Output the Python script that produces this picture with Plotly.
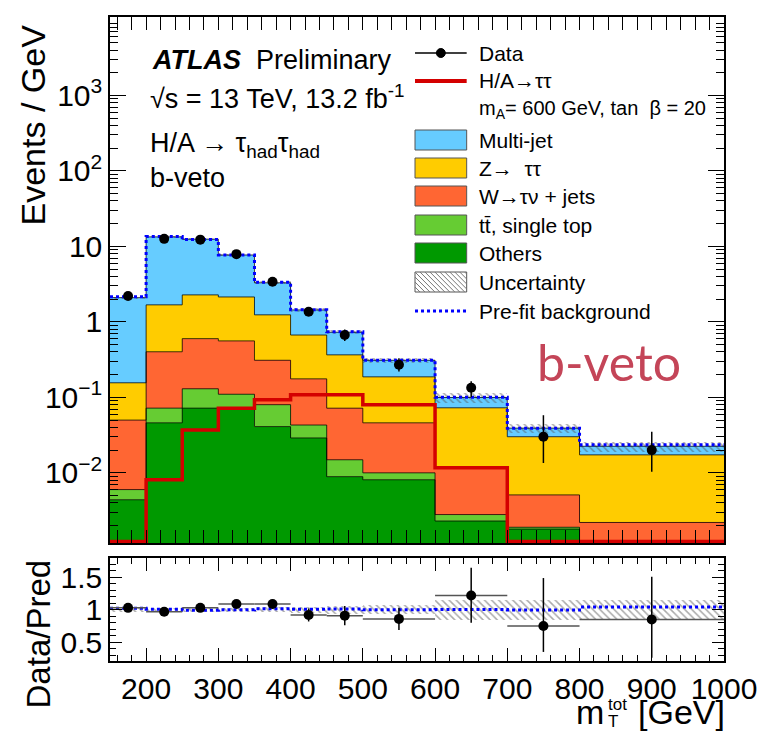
import numpy as np
import plotly.graph_objects as go

# ---------------- data (events / GeV) ----------------
edges = [150, 200, 250, 300, 350, 400, 450, 500, 600, 700, 800, 1000]
others = [0.0044, 0.046, 0.072, 0.070, 0.041, 0.029, 0.0089, 0.0081, 0.0023, 0.0018, 0.0008]
ttbar = [0.0016, 0.026, 0.058, 0.040, 0.039, 0.014, 0.0060, 0.0019, 0.0005, 0.0001, 0.0001]
wjets = [0.044, 0.33, 0.47, 0.45, 0.23, 0.133, 0.057, 0.036, 0.0089, 0.0032, 0.0013]
ztautau = [0.106, 1.28, 1.68, 1.58, 0.93, 0.494, 0.294, 0.141, 0.061, 0.025, 0.0151]
multijet = [1.94, 11.7, 10.2, 5.56, 2.06, 0.77, 0.364, 0.123, 0.027, 0.009, 0.0052]
prefit = [2.15, 13.5, 12.4, 7.7, 3.35, 1.45, 0.74, 0.31, 0.10, 0.039, 0.0235]
signal = [0.0, 0.0081, 0.037, 0.072, 0.093, 0.108, 0.108, 0.080, 0.0117, 0.0, 0.0]
data = [2.2, 12.6, 12.3, 7.9, 3.4, 1.36, 0.67, 0.27, 0.134, 0.030, 0.020]
data_err_up = [0.2, 0.5, 0.5, 0.4, 0.26, 0.17, 0.12, 0.06, 0.03, 0.028, 0.015]
data_err_dn = [0.2, 0.5, 0.5, 0.4, 0.26, 0.16, 0.11, 0.05, 0.033, 0.0165, 0.0097]
rel_unc = [0.03, 0.03, 0.03, 0.03, 0.04, 0.05, 0.06, 0.07, 0.15, 0.15, 0.15]
ratio = [1.03, 0.97, 1.03, 1.09, 1.09, 0.92, 0.91, 0.86, 1.22, 0.75, 0.85]
ratio_err_up = [0.05, 0.04, 0.04, 0.05, 0.07, 0.10, 0.15, 0.17, 0.43, 0.74, 0.66]
ratio_err_dn = [0.05, 0.04, 0.04, 0.05, 0.07, 0.10, 0.15, 0.17, 0.42, 0.40, 0.59]

yticks_main = [1e-2, 1e-1, 1, 10, 1e2, 1e3]
yticks_main_text = ["10<sup>\u22122</sup>", "10<sup>\u22121</sup>", "1", "10",
                    "10<sup>2</sup>", "10<sup>3</sup>"]
yticks_ratio = [0.5, 1, 1.5]
yticks_ratio_text = ["0.5", "1", "1.5"]

# ---------------- derived ----------------
e = np.array(edges, dtype=float)
centers = (e[:-1] + e[1:]) / 2
widths = np.diff(e)
comps = [("Others", others, "#009900"),
         ("ttbar", ttbar, "#66cc33"),
         ("W", wjets, "#ff6633"),
         ("Z", ztautau, "#ffcc00"),
         ("Multi-jet", multijet, "#66ccff")]
cum = np.cumsum(np.array([c[1] for c in comps]), axis=0)
total = cum[-1]
ylog_range = [-2.93, 4.04]
yfloor = 10 ** (ylog_range[0] + 0.02)
minor_vals = [m * 10.0 ** d for d in range(-3, 5) for m in range(2, 10)
              if ylog_range[0] <= np.log10(m * 10.0 ** d) <= ylog_range[1]]


def step(vals):
    v = list(vals)
    return list(e), v + [v[-1]]


fig = go.Figure()

# stacked fills (drawn from largest cumulative to smallest)
for i in range(len(comps) - 1, -1, -1):
    fig.add_trace(go.Bar(x=centers, y=cum[i], width=widths, marker_color=comps[i][2],
                         marker_line_width=0, xaxis="x2", yaxis="y2",
                         showlegend=False, hoverinfo="skip"))
# outlines
for i in range(len(comps)):
    sx, sy = step(cum[i])
    fig.add_trace(go.Scatter(x=sx, y=sy, mode="lines", line_shape="hv",
                             line=dict(color="rgba(0,0,0,0.75)", width=1),
                             xaxis="x2", yaxis="y2", showlegend=False, hoverinfo="skip"))
# uncertainty hatch
unc = total * np.array(rel_unc)
fig.add_trace(go.Bar(x=centers, y=2 * unc, base=total - unc, width=widths,
                     marker=dict(color="rgba(0,0,0,0)", line_width=0,
                                 pattern=dict(shape="\\", fgcolor="#555555",
                                              bgcolor="rgba(0,0,0,0)", size=5, solidity=0.3)),
                     xaxis="x2", yaxis="y2", showlegend=False, hoverinfo="skip"))
# prefit
sx, sy = step(prefit)
fig.add_trace(go.Scatter(x=sx, y=sy, mode="lines", line_shape="hv",
                         line=dict(color="#0000ff", width=3, dash="dot"),
                         xaxis="x2", yaxis="y2", showlegend=False, hoverinfo="skip"))
# signal
sig_draw = np.clip(np.array(signal), yfloor, None)
sx, sy = step(sig_draw)
fig.add_trace(go.Scatter(x=sx, y=sy, mode="lines", line_shape="hv",
                         line=dict(color="#d40000", width=3.5),
                         xaxis="x2", yaxis="y2", showlegend=False, hoverinfo="skip"))
# data
fig.add_trace(go.Scatter(x=centers, y=data, mode="markers",
                         marker=dict(color="black", size=10),
                         error_y=dict(type="data", symmetric=False, array=data_err_up,
                                      arrayminus=data_err_dn, width=0, thickness=1.5,
                                      color="black"),
                         xaxis="x2", yaxis="y2", showlegend=False, hoverinfo="skip"))
# invisible trace for the minor-tick overlay axis
fig.add_trace(go.Scatter(x=[centers[0]], y=[1], mode="markers", marker=dict(opacity=0),
                         xaxis="x2", yaxis="y3", showlegend=False, hoverinfo="skip"))

# ---------------- ratio panel ----------------
runc = np.array(rel_unc)
fig.add_trace(go.Bar(x=centers, y=2 * runc, base=1 - runc, width=widths,
                     marker=dict(color="rgba(0,0,0,0)", line_width=0,
                                 pattern=dict(shape="\\", fgcolor="#555555",
                                              bgcolor="rgba(0,0,0,0)", size=5, solidity=0.3)),
                     xaxis="x", yaxis="y", showlegend=False, hoverinfo="skip"))
sx, sy = step(np.array(prefit) / total)
fig.add_trace(go.Scatter(x=sx, y=sy, mode="lines", line_shape="hv",
                         line=dict(color="#0000ff", width=3, dash="dot"),
                         xaxis="x", yaxis="y", showlegend=False, hoverinfo="skip"))
fig.add_trace(go.Scatter(x=centers, y=ratio, mode="markers",
                         marker=dict(color="black", size=10),
                         error_y=dict(type="data", symmetric=False, array=ratio_err_up,
                                      arrayminus=ratio_err_dn, width=0, thickness=1.5,
                                      color="black"),
                         error_x=dict(type="data", array=widths / 2, width=0, thickness=1.5,
                                      color="#555555"),
                         xaxis="x", yaxis="y", showlegend=False, hoverinfo="skip"))

FONT = "Liberation Sans, Arial, Helvetica, sans-serif"
axis_common = dict(showline=True, linecolor="black", linewidth=1.5, mirror="allticks",
                   ticks="inside", tickcolor="black", showgrid=False, zeroline=False)

fig.update_layout(
    width=769, height=731,
    margin=dict(l=110, r=41, t=17, b=70),
    paper_bgcolor="white", plot_bgcolor="white",
    barmode="overlay", bargap=0,
    font=dict(family=FONT, color="black"),
    xaxis=dict(domain=[0, 1], anchor="y", range=[150, 1000], tick0=0, dtick=100,
               ticklen=13, tickwidth=1.2,
               minor=dict(ticks="inside", ticklen=6, dtick=20, tickcolor="black", showgrid=False),
               tickfont=dict(size=30, family=FONT), **axis_common),
    yaxis=dict(domain=[0, 0.16], anchor="x", range=[0.21, 1.8], tickvals=yticks_ratio,
               ticktext=yticks_ratio_text, ticklen=12, tickwidth=1.2,
               minor=dict(ticks="inside", ticklen=6, dtick=0.1, tick0=0, tickcolor="black",
                          showgrid=False),
               tickfont=dict(size=30, family=FONT), **axis_common),
    xaxis2=dict(domain=[0, 1], anchor="y2", matches="x", range=[150, 1000], tick0=0, dtick=100,
                ticklen=13, tickwidth=1.2, showticklabels=False,
                minor=dict(ticks="inside", ticklen=6, dtick=20, tickcolor="black", showgrid=False),
                **axis_common),
    yaxis2=dict(domain=[0.1832, 1], anchor="x2", type="log", range=ylog_range,
                tickvals=yticks_main, ticktext=yticks_main_text, ticklen=16, tickwidth=1.2,
                tickfont=dict(size=30, family=FONT), **axis_common),
    yaxis3=dict(domain=[0.1832, 1], anchor="x2", overlaying="y2", type="log", range=ylog_range,
                tickvals=minor_vals, ticklen=8, tickwidth=1, showticklabels=False,
                showline=False, mirror="allticks", ticks="inside", tickcolor="black",
                showgrid=False, zeroline=False),
)


def X(px):
    return (px - 110) / 618


def Y(py):
    return (661 - py) / 644


ann = []
shapes = []


def text(px, py, s, size, xanchor="left", color="black", family=FONT, angle=0, yanchor="middle"):
    ann.append(dict(x=X(px), y=Y(py), xref="paper", yref="paper", text=s, showarrow=False,
                    xanchor=xanchor, yanchor=yanchor, textangle=angle,
                    font=dict(size=size, color=color, family=family)))


# top-left labels
text(150, 60, "<b><i>ATLAS</i></b>  Preliminary", 27)
text(148, 97, "\u221as = 13 TeV, 13.2 fb<sup>-1</sup>", 27)
text(148, 145, "H/A \u2192 \u03c4<sub>had</sub>\u03c4<sub>had</sub>", 27)
text(148, 178, "b-veto", 27)

# axis titles
text(32, 125, "Events / GeV", 34, xanchor="center", angle=-90)
text(38, 634, "Data/Pred", 33, xanchor="center", angle=-90)
text(731, 712, "[GeV]", 34, xanchor="right")
text(609, 712, "m", 34, xanchor="right")
text(609, 704, "tot", 17)
text(609, 721, "T", 17)

# red overlay label
text(612, 362, "b-veto", 50, xanchor="center", color="#c44558", family="Lato, sans-serif")

# legend
LX0, LX1, LT = 417, 469, 479
rows = {"Data": 53, "sig": 81, "mA": 109, "mj": 140, "z": 168, "w": 196, "tt": 225,
        "oth": 253, "unc": 282, "pre": 311}
LF = 21
shapes.append(dict(type="line", xref="paper", yref="paper", x0=X(LX0), x1=X(LX1),
                   y0=Y(rows["Data"]), y1=Y(rows["Data"]), line=dict(color="black", width=1.5)))
shapes.append(dict(type="circle", xref="paper", yref="paper", x0=X(443 - 4.5), x1=X(443 + 4.5),
                   y0=Y(rows["Data"] + 4.5), y1=Y(rows["Data"] - 4.5), fillcolor="black",
                   line=dict(color="black", width=1)))
text(LT, rows["Data"], "Data", LF)
shapes.append(dict(type="line", xref="paper", yref="paper", x0=X(LX0), x1=X(LX1),
                   y0=Y(rows["sig"]), y1=Y(rows["sig"]), line=dict(color="#d40000", width=4)))
text(LT, rows["sig"], "H/A\u2192\u03c4\u03c4", LF)
text(LT, rows["mA"], "m<sub>A</sub>= 600 GeV, tan  \u03b2 = 20", 20)
box_items = [("mj", "#66ccff", "Multi-jet"), ("z", "#ffcc00", "Z\u2192  \u03c4\u03c4"),
             ("w", "#ff6633", "W\u2192\u03c4\u03bd + jets"),
             ("tt", "#66cc33", "tt\u0304, single top"), ("oth", "#009900", "Others")]
for key, col, lab in box_items:
    yc = rows[key]
    shapes.append(dict(type="rect", xref="paper", yref="paper", x0=X(LX0), x1=X(LX1),
                       y0=Y(yc + 10), y1=Y(yc - 10), fillcolor=col,
                       line=dict(color="#555555", width=1)))
    text(LT, yc, lab, LF)
# uncertainty legend box with hatch
yc = rows["unc"]
top, bot = yc - 10, yc + 10
shapes.append(dict(type="rect", xref="paper", yref="paper", x0=X(LX0), x1=X(LX1),
                   y0=Y(bot), y1=Y(top), fillcolor="white", line=dict(color="#555555", width=1)))
hgt = bot - top
for k in range(-4, 14):
    xa = LX0 + k * 5
    xb = xa + hgt
    xs, ys = xa, top
    xe, ye = xb, bot
    if xs < LX0:
        ys = top + (LX0 - xs)
        xs = LX0
    if xe > LX1:
        ye = bot - (xe - LX1)
        xe = LX1
    if xs >= xe:
        continue
    shapes.append(dict(type="line", xref="paper", yref="paper", x0=X(xs), x1=X(xe),
                       y0=Y(ys), y1=Y(ye), line=dict(color="#777777", width=1)))
text(LT, yc, "Uncertainty", LF)
shapes.append(dict(type="line", xref="paper", yref="paper", x0=X(LX0), x1=X(LX1),
                   y0=Y(rows["pre"]), y1=Y(rows["pre"]),
                   line=dict(color="#0000ff", width=3, dash="dot")))
text(LT, rows["pre"], "Pre-fit background", LF)

fig.update_layout(annotations=ann, shapes=shapes)
fig.write_html("out.html")
